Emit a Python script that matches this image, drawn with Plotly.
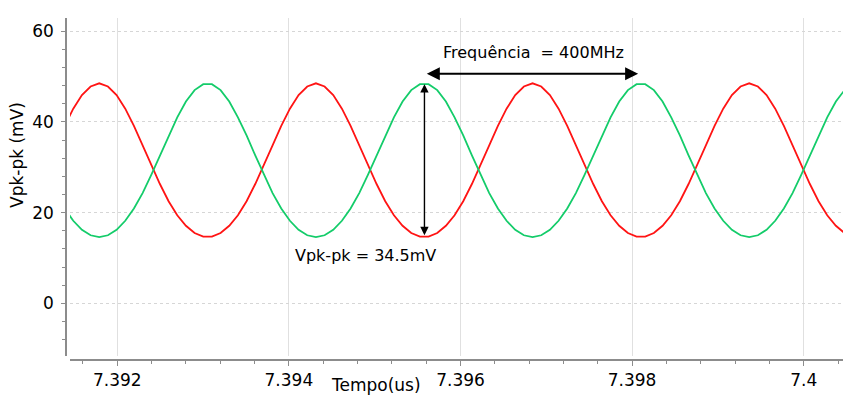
import plotly.graph_objects as go

# ---- data ----
TIME_US = [
    7.391386, 7.391487, 7.391588, 7.391689, 7.391790, 7.391891, 7.391992, 7.392093,
    7.392194, 7.392295, 7.392396, 7.392497, 7.392598, 7.392699, 7.392800, 7.392901,
    7.393002, 7.393103, 7.393204, 7.393305, 7.393406, 7.393507, 7.393608, 7.393709,
    7.393810, 7.393911, 7.394012, 7.394113, 7.394214, 7.394315, 7.394416, 7.394517,
    7.394618, 7.394719, 7.394820, 7.394921, 7.395022, 7.395123, 7.395224, 7.395325,
    7.395426, 7.395527, 7.395628, 7.395729, 7.395830, 7.395931, 7.396032, 7.396133,
    7.396234, 7.396335, 7.396436, 7.396537, 7.396638, 7.396739, 7.396840, 7.396941,
    7.397042, 7.397143, 7.397244, 7.397345, 7.397446, 7.397547, 7.397648, 7.397749,
    7.397850, 7.397951, 7.398052, 7.398153, 7.398254, 7.398355, 7.398456, 7.398557,
    7.398658, 7.398759, 7.398860, 7.398961, 7.399062, 7.399163, 7.399264, 7.399365,
    7.399466, 7.399567, 7.399668, 7.399769, 7.399870, 7.399971, 7.400072, 7.400173,
    7.400274, 7.400375, 7.400476,
]

RED_MV = [
    39.1, 42.9, 45.9, 47.8,
    48.5, 47.8, 45.9, 42.9, 39.1, 34.8, 30.4, 26.3, 22.5, 19.4, 17.1, 15.5, 14.7,
    14.7, 15.5, 17.1, 19.4, 22.5, 26.3, 30.4, 34.8, 39.1, 42.9, 45.9, 47.8,
    48.5, 47.8, 45.9, 42.9, 39.1, 34.8, 30.4, 26.3, 22.5, 19.4, 17.1, 15.5, 14.7,
    14.7, 15.5, 17.1, 19.4, 22.5, 26.3, 30.4, 34.8, 39.1, 42.9, 45.9, 47.8,
    48.5, 47.8, 45.9, 42.9, 39.1, 34.8, 30.4, 26.3, 22.5, 19.4, 17.1, 15.5, 14.7,
    14.7, 15.5, 17.1, 19.4, 22.5, 26.3, 30.4, 34.8, 39.1, 42.9, 45.9, 47.8,
    48.5, 47.8, 45.9, 42.9, 39.1, 34.8, 30.4, 26.3, 22.5, 19.4, 17.1, 15.5,
]

GREEN_MV = [
    20.9, 18.2, 16.2, 15.0,
    14.6, 15.0, 16.2, 18.2, 20.9, 24.3, 28.3, 32.6, 37.0, 41.0, 44.5, 47.0, 48.3,
    48.3, 47.0, 44.5, 41.0, 37.0, 32.6, 28.3, 24.3, 20.9, 18.2, 16.2, 15.0,
    14.6, 15.0, 16.2, 18.2, 20.9, 24.3, 28.3, 32.6, 37.0, 41.0, 44.5, 47.0, 48.3,
    48.3, 47.0, 44.5, 41.0, 37.0, 32.6, 28.3, 24.3, 20.9, 18.2, 16.2, 15.0,
    14.6, 15.0, 16.2, 18.2, 20.9, 24.3, 28.3, 32.6, 37.0, 41.0, 44.5, 47.0, 48.3,
    48.3, 47.0, 44.5, 41.0, 37.0, 32.6, 28.3, 24.3, 20.9, 18.2, 16.2, 15.0,
    14.6, 15.0, 16.2, 18.2, 20.9, 24.3, 28.3, 32.6, 37.0, 41.0, 44.5, 47.0,
]

X_TICK_VALUES = [7.392, 7.394, 7.396, 7.398, 7.4]
X_TICK_LABELS = ["7.392", "7.394", "7.396", "7.398", "7.4"]
Y_TICK_VALUES = [0, 20, 40, 60]
Y_TICK_LABELS = ["0", "20", "40", "60"]

# annotation anchors (data units)
PERIOD_START = 7.39559
PERIOD_END = 7.39807
PERIOD_ARROW_Y = 50.6
VPP_ARROW_T = 7.39558
FREQ_TEXT = "Frequência  = 400MHz"
VPP_TEXT = "Vpk-pk = 34.5mV"

FONT = "DejaVu Sans"
GRID = "#e0e0e0"
AXIS = "#8c8c8c"

fig = go.Figure()
fig.add_trace(go.Scatter(x=TIME_US, y=RED_MV, mode="lines",
                         line=dict(color="#ff1414", width=1.8), showlegend=False))
fig.add_trace(go.Scatter(x=TIME_US, y=GREEN_MV, mode="lines",
                         line=dict(color="#14cc6a", width=1.8), showlegend=False))

fig.update_layout(
    width=843, height=395,
    margin=dict(l=66, r=0, t=18, b=35),
    paper_bgcolor="white", plot_bgcolor="white",
    font=dict(family=FONT, size=17, color="black"),
    xaxis=dict(
        domain=[0.00515, 1], anchor="free", position=0,
        range=[7.391449, 7.400458],
        tickvals=X_TICK_VALUES, ticktext=X_TICK_LABELS,
        ticks="outside", ticklen=5, tickcolor=AXIS, tickwidth=1,
        showline=True, linecolor=AXIS, linewidth=1.5,
        showgrid=True, gridcolor=GRID, gridwidth=1,
        zeroline=False,
        minor=dict(dtick=0.0004, tick0=7.392, ticks="outside", ticklen=3,
                   tickcolor=AXIS, showgrid=False),
        tickfont=dict(size=17, family=FONT),
    ),
    yaxis=dict(
        domain=[0.0126, 1], anchor="free", position=0,
        range=[-11.55, 62.9],
        tickvals=Y_TICK_VALUES, ticktext=Y_TICK_LABELS,
        ticks="outside", ticklen=4, tickcolor=AXIS, tickwidth=1,
        ticklabelstandoff=4,
        showline=True, linecolor=AXIS, linewidth=1.5,
        showgrid=True, gridcolor="#d6d6d6", gridwidth=1, griddash="dot",
        zeroline=False,
        minor=dict(dtick=4, tick0=0, ticks="outside", ticklen=3,
                   tickcolor=AXIS, showgrid=False),
        tickfont=dict(size=17, family=FONT),
    ),
)

annotations = [
    # period double arrow
    dict(x=PERIOD_END, y=PERIOD_ARROW_Y, ax=PERIOD_START, ay=PERIOD_ARROW_Y,
         xref="x", yref="y", axref="x", ayref="y", text="", showarrow=True,
         arrowhead=2, startarrowhead=2, arrowside="end+start",
         arrowwidth=2, arrowsize=1.3, startarrowsize=1.3, arrowcolor="black",
         standoff=0, startstandoff=0),
    # Vpp double arrow
    dict(x=VPP_ARROW_T, y=max(GREEN_MV), ax=VPP_ARROW_T, ay=min(RED_MV),
         xref="x", yref="y", axref="x", ayref="y", text="", showarrow=True,
         arrowhead=2, startarrowhead=2, arrowside="end+start",
         arrowwidth=1.4, arrowsize=1.2, startarrowsize=1.2, arrowcolor="black",
         standoff=0, startstandoff=0),
    dict(x=(PERIOD_START + PERIOD_END) / 2 + 0.00002, y=55.2, xref="x", yref="y",
         text=FREQ_TEXT, showarrow=False, xanchor="center", yanchor="middle",
         font=dict(size=16, family=FONT, color="black")),
    dict(x=7.39489, y=10.6, xref="x", yref="y",
         text=VPP_TEXT, showarrow=False, xanchor="center", yanchor="middle",
         font=dict(size=16, family=FONT, color="black")),
    # axis titles
    dict(x=(375.7 - 66) / 777, y=(360 - 385) / 342, xref="paper", yref="paper",
         text="Tempo(us)", showarrow=False, xanchor="center", yanchor="middle",
         font=dict(size=17, family=FONT, color="black")),
    dict(x=(17 - 66) / 777, y=(360 - 155) / 342, xref="paper", yref="paper",
         text="Vpk-pk (mV)", textangle=-90, showarrow=False,
         xanchor="center", yanchor="middle",
         font=dict(size=17, family=FONT, color="black")),
]
fig.update_layout(annotations=annotations)

fig.write_html("out.html")
